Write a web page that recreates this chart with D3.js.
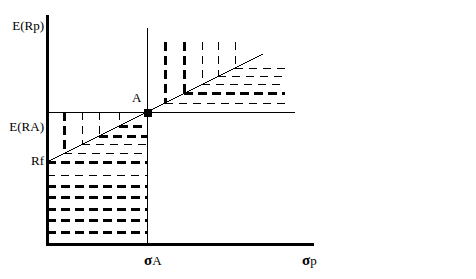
<!DOCTYPE html>
<html>
<head>
<meta charset="utf-8">
<script src="https://cdn.jsdelivr.net/npm/d3@7"></script>
<style>
  body { margin: 0; background: #fff; }
  text { font-family: "Liberation Serif", "DejaVu Serif", serif; font-size: 13px; fill: #000; }
  .thick { stroke: #000; stroke-width: 3; stroke-dasharray: 9 5; }
  .thin { stroke: #000; stroke-width: 1; stroke-dasharray: 8 6; }
</style>
</head>
<body>
<svg id="drawing" width="476" height="279"></svg>
<script>
// risk (sigma) and expected return, arbitrary units
var sigmaMax = 53, retMax = 45.6;
var sigmaA = 20, retA = 26.4, rf = 16.4, slope = 0.5;
var cmlEnd = 43.2, eraLineEnd = 49.6, sigmaLineTop = 43.2;

// dashed verticals between E(RA) line and the line, left of A
var lowSigmas = [3.4, 7, 10.4, 14.4];
var lowVertThick = [true, false, false, false];
var lowHorizThick = [false, false, true, true];

// dashed horizontals below Rf
var floorRets = [16.4, 13.8, 11.6, 9.4, 7, 4.8, 2.4];
var floorThick = [true, false, true, true, true, true, true];

// dashed verticals above the line, right of A
var highSigmas = [23.6, 27.4, 31, 34.2, 37.6];
var highVertThick = [true, true, false, false, false];
var highHorizThick = [false, true, false, false, false];
var highTop = 40.4, highRight = 47.6;

var labels = { yTop: "E(Rp)", yA: "E(RA)", yRf: "Rf", point: "A", xA: "A", xEnd: "p" };

var drawing = d3.select("#drawing");

var x = d3.scaleLinear().domain([0, sigmaMax]).range([47, 312]);
var y = d3.scaleLinear().domain([0, retMax]).range([244, 16]);

function cml(s) { return rf + slope * s; }

var g = drawing.append("g").attr("shape-rendering", "crispEdges");

// lower-left region
lowSigmas.forEach(function(s, i) {
  g.append("line")
    .attr("class", lowVertThick[i] ? "thick" : "thin")
    .attr("x1", x(s)).attr("x2", x(s))
    .attr("y1", y(retA)).attr("y2", y(cml(s)));
  g.append("line")
    .attr("class", lowHorizThick[i] ? "thick" : "thin")
    .attr("x1", x(s)).attr("x2", x(sigmaA))
    .attr("y1", y(cml(s))).attr("y2", y(cml(s)));
});

floorRets.forEach(function(r, i) {
  g.append("line")
    .attr("class", floorThick[i] ? "thick" : "thin")
    .attr("x1", x(0)).attr("x2", x(sigmaA))
    .attr("y1", y(r)).attr("y2", y(r));
});

// upper-right region
highSigmas.forEach(function(s, i) {
  g.append("line")
    .attr("class", highVertThick[i] ? "thick" : "thin")
    .attr("x1", x(s)).attr("x2", x(s))
    .attr("y1", y(highTop)).attr("y2", y(cml(s)));
  g.append("line")
    .attr("class", highHorizThick[i] ? "thick" : "thin")
    .attr("x1", x(s)).attr("x2", x(highRight))
    .attr("y1", y(cml(s))).attr("y2", y(cml(s)));
});

// solid guide lines
g.append("line")
  .attr("x1", x(0)).attr("x2", x(eraLineEnd))
  .attr("y1", y(retA) + 0.5).attr("y2", y(retA) + 0.5)
  .attr("stroke", "#000");
g.append("line")
  .attr("x1", x(sigmaA) + 0.5).attr("x2", x(sigmaA) + 0.5)
  .attr("y1", y(sigmaLineTop)).attr("y2", y(0))
  .attr("stroke", "#000");
g.append("line")
  .attr("x1", x(0)).attr("y1", y(rf))
  .attr("x2", x(cmlEnd)).attr("y2", y(cml(cmlEnd)))
  .attr("stroke", "#000");

// axes, no ticks
var yAxis = g.append("g")
  .attr("transform", "translate(" + x(0) + ",0)")
  .call(d3.axisLeft(y).tickValues([]).tickSizeOuter(0));
var xAxis = g.append("g")
  .attr("transform", "translate(0," + y(0) + ")")
  .call(d3.axisBottom(x).tickValues([]).tickSizeOuter(0));
g.selectAll(".domain")
  .attr("stroke", "#000")
  .attr("stroke-width", 3)
  .attr("stroke-linecap", "square");

// point A
g.append("rect")
  .attr("x", x(sigmaA) - 3.5).attr("y", y(retA) - 3.5)
  .attr("width", 8).attr("height", 8)
  .attr("fill", "#000");

// labels
drawing.append("text").attr("x", x(0) - 3).attr("y", y(retMax) + 14)
  .attr("text-anchor", "end").text(labels.yTop);
drawing.append("text").attr("x", x(0) - 3).attr("y", y(retA) + 19)
  .attr("text-anchor", "end").text(labels.yA);
drawing.append("text").attr("x", x(0) - 3).attr("y", y(rf) + 3)
  .attr("text-anchor", "end").text(labels.yRf);
drawing.append("text").attr("x", x(sigmaA) - 15).attr("y", y(retA) - 10)
  .text(labels.point);

var tA = drawing.append("text").attr("x", x(sigmaA) - 3).attr("y", y(0) + 21);
tA.append("tspan").style("font-size", "15px").style("font-weight", "bold").text("σ");
tA.append("tspan").text(labels.xA);
var tP = drawing.append("text").attr("x", x(sigmaMax) - 10).attr("y", y(0) + 21);
tP.append("tspan").style("font-size", "15px").style("font-weight", "bold").text("σ");
tP.append("tspan").text(labels.xEnd);
</script>
</body>
</html>
